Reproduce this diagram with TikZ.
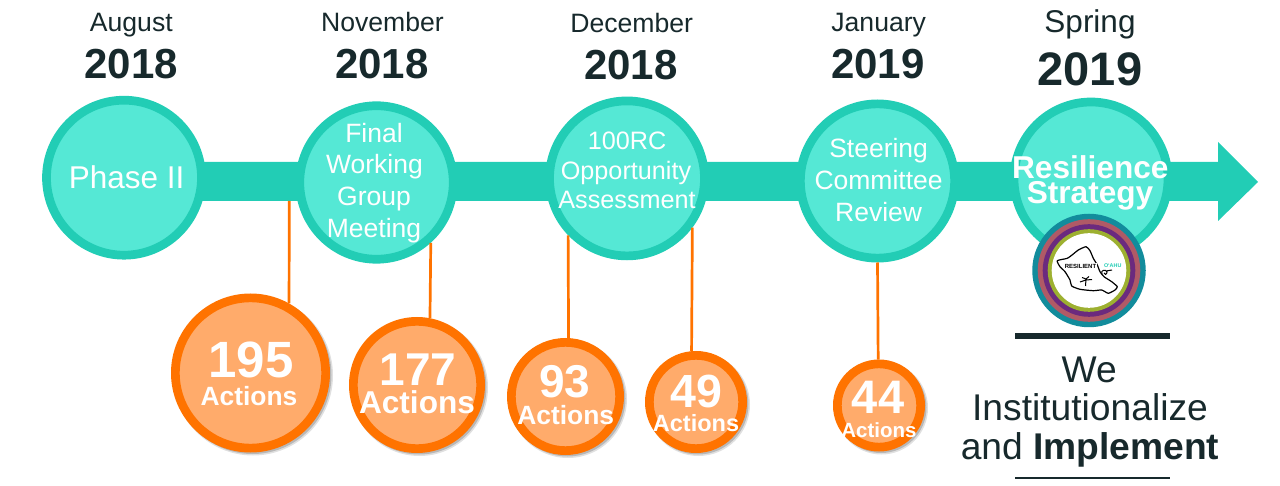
\documentclass[tikz,border=0pt]{standalone}
\usepackage{fontspec}
\setmainfont{Liberation Sans}
\definecolor{barteal}{HTML}{22CDB5}
\definecolor{fillteal}{HTML}{55E8D5}
\definecolor{ringor}{HTML}{FF7300}
\definecolor{fillor}{HTML}{FFAB6B}
\definecolor{inkdark}{HTML}{17292C}
\definecolor{lteal}{HTML}{128C9C}
\definecolor{lrose}{HTML}{B05A66}
\definecolor{lpurple}{HTML}{6B2A7E}
\definecolor{lolive}{HTML}{9DB030}
\newcommand{\fs}[1]{\fontsize{#1}{#1}\selectfont}
\newcommand{\shdw}[3]{\fill[black,opacity=.12] (#1+2.5,#2+2.5) circle[radius=#3+0.5];\fill[black,opacity=.18] (#1+2,#2+2) circle[radius=#3-0.5];}
\tikzset{
  x=1pt,y=-1pt,
  milestone/.style={circle,draw=barteal,fill=fillteal,line width=8.7pt,inner sep=0pt,outer sep=4.35pt,minimum size=#1},
  actions/.style={circle,draw=ringor,fill=fillor,line width=8.7pt,inner sep=0pt,outer sep=4.35pt,minimum size=#1},
  inlbl/.style={text=white,align=center,inner sep=0pt,anchor=base},
  bnum/.style={inlbl,font=\bfseries\fs{#1}},
  datelbl/.style={text=inkdark,align=center,inner sep=0pt,anchor=base,font=\fs{#1}},
  yearlbl/.style={text=inkdark,align=center,inner sep=0pt,anchor=base,font=\bfseries\fs{#1}},
  link/.style={draw=ringor,line width=2.7pt},
  rulebar/.style={fill=inkdark,draw=none},
  lgring/.style={circle,inner sep=0pt,fill=#1}
}
\begin{document}
\begin{tikzpicture}
\useasboundingbox (0,0) rectangle (1280,486);
% arrow bar
\fill[barteal] (195,162) -- (1218,162) -- (1218,142) -- (1258,182) -- (1218,221) -- (1218,201) -- (195,201) -- cycle;
\coordinate (t1) at (289.3,201);
% milestones
\node[milestone=155pt] (c1) at (124,177.7) {};
\node[milestone=153.5pt] (c2) at (376.5,182.5) {};
\node[milestone=155pt] (c3) at (627,178.4) {};
\node[milestone=154.3pt] (c4) at (877.5,181) {};
\node[milestone=154pt] (c5) at (1091,179) {};
% action circles
\shdw{250.5}{373}{79.5}
\shdw{417}{385}{68}
\shdw{565.5}{396.5}{58.5}
\shdw{696}{402}{51}
\shdw{879}{405.5}{46}
\node[actions=150.3pt] (o1) at (250.5,373) {};
\node[actions=127.3pt] (o2) at (417,385) {};
\node[actions=108.3pt] (o3) at (565.5,396.5) {};
\node[actions=93.3pt] (o4) at (696,402) {};
\node[actions=83.3pt] (o5) at (879,405.5) {};
% connectors
\draw[link] (t1) -- (o1.61.2);
\draw[link] (c2.-48.4) -- (o2.79.2);
\draw[link] (c3.-136.1) -- (o3.87.3);
\draw[link] (c3.-37.9) -- (o4.95.3);
\draw[link] (c4.south) -- (o5.91);
% circle texts
\node[inlbl,font=\fs{31.5}] (c1t) at (126.7,189) {Phase II};
\node[inlbl,font=\fs{26.5}] (c2a) at (374,142.7) {Final};
\node[inlbl,font=\fs{26.5}] (c2b) at (374.5,174) {Working};
\node[inlbl,font=\fs{26.5}] (c2c) at (374,206) {Group};
\node[inlbl,font=\fs{26.5}] (c2d) at (374,238) {Meeting};
\node[inlbl,font=\fs{25.2}] (c3a) at (627,150) {100RC};
\node[inlbl,font=\fs{25.2}] (c3b) at (626,179.5) {Opportunity};
\node[inlbl,font=\fs{25.2}] (c3c) at (627,209) {Assessment};
\node[inlbl,font=\fs{26.5}] (c4a) at (878.6,157.7) {Steering};
\node[inlbl,font=\fs{26.5}] (c4b) at (878.6,189.5) {Committee};
\node[inlbl,font=\fs{26.5}] (c4c) at (878.6,221.5) {Review};
\node[bnum=31.6] (c5a) at (1090.3,178.3) {Resilience};
\node[bnum=31.6] (c5b) at (1090,204) {Strategy};
\node[bnum=51] (o1n) at (251,377.5) {195};
\node[bnum=26.4] (o1t) at (249,405.7) {Actions};
\node[bnum=46] (o2n) at (418,385.5) {177};
\node[bnum=31.6] (o2t) at (417,413.5) {Actions};
\node[bnum=46] (o3n) at (565,397) {93};
\node[bnum=26.4] (o3t) at (565.7,424) {Actions};
\node[bnum=46.5] (o4n) at (696,407.5) {49};
\node[bnum=23.5] (o4t) at (696,431.5) {Actions};
\node[bnum=47] (o5n) at (878,413.5) {44};
\node[bnum=20.5] (o5t) at (879,437.5) {Actions};
% dates
\node[datelbl=26.6] (d1a) at (131.3,32) {August};
\node[yearlbl=42] (d1b) at (131.2,79) {2018};
\node[datelbl=26.6] (d2a) at (382.5,32) {November};
\node[yearlbl=42] (d2b) at (382,79) {2018};
\node[datelbl=26.6] (d3a) at (631.7,33) {December};
\node[yearlbl=42] (d3b) at (631,80) {2018};
\node[datelbl=26.6] (d4a) at (878.7,32) {January};
\node[yearlbl=42] (d4b) at (878,79) {2019};
\node[datelbl=31.5] (d5a) at (1090,32.5) {Spring};
\node[yearlbl=47] (d5b) at (1090,86) {2019};
% logo
\node[lgring=lteal,minimum size=113.5pt] (lg) at (1089,270.5) {};
\node[lgring=lrose,minimum size=102.6pt] (lg1) at (1089,270.5) {};
\node[lgring=lpurple,minimum size=92.6pt] (lg2) at (1089,270.5) {};
\node[lgring=lolive,minimum size=82.6pt] (lg3) at (1089,270.5) {};
\node[lgring=white,minimum size=74.6pt] (lg4) at (1089,270.5) {};
\draw[black,line width=1.2pt,line join=round] plot[smooth cycle,tension=.35] coordinates {(1057.3,260.7) (1067.3,258.3) (1073.3,254) (1078.3,250) (1086,246.7) (1090,250.7) (1093.3,258.3) (1097.3,265) (1100,271.7) (1104,276.7) (1111.7,281.7) (1117.3,286.7) (1115,290) (1108.3,293.3) (1101.7,290) (1093.3,290.7) (1080,289.3) (1071.7,286) (1070,280) (1065,271.7) (1060,266.7)};
\draw[black,line width=1pt] (1102,274) .. controls (1100,270) and (1106,269) .. (1107,272) .. controls (1107,275) and (1104,275) .. (1104,273) (1106,271) -- (1112,270);
\node[inner sep=.6pt,fill=white,text=black] (lgt) at (1080.5,266) {\bfseries\fs{6}RESILIENT};
\node[inner sep=0pt,text=barteal] (lgo) at (1112.7,266) {\bfseries\fs{5.4}O‘AHU};
\draw[black,line width=1pt] (1086,279) -- (1085.5,286) (1086,280) -- (1080,282) (1086,279) -- (1082,277.5) (1086,279) -- (1089,276.5) (1086,280) -- (1092,279.5);
% bottom
\fill[rulebar] (1015,332.7) rectangle (1170,339);
\node[datelbl=37.2] (w1) at (1089.3,382.2) {We};
\node[datelbl=37.2] (w2) at (1090,420.5) {Institutionalize};
\node[datelbl=37.2] (w3) at (1090,459.8) {and \textbf{Implement}};
\fill[rulebar] (1015,476.7) rectangle (1170,478.7);
\end{tikzpicture}
\end{document}
